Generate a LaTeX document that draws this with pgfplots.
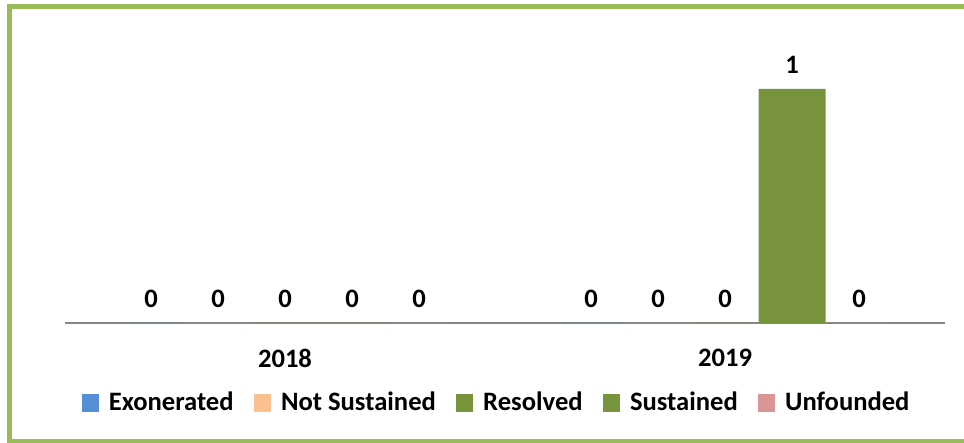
\documentclass[border=0pt]{standalone}
\usepackage{fontspec}
\setmainfont{Carlito}
\usepackage{pgfplots}
\pgfplotsset{compat=1.18}
\definecolor{cExo}{HTML}{558ED5}
\definecolor{cNot}{HTML}{FAC090}
\definecolor{cRes}{HTML}{77933C}
\definecolor{cSus}{HTML}{77933C}
\definecolor{cUnf}{HTML}{D99694}
\definecolor{frame}{HTML}{9BBB59}
\definecolor{axisc}{HTML}{868686}

\begin{document}
\begin{tikzpicture}[font=\fontsize{13.3}{15}\selectfont\bfseries]
% 1 px of the reference = 0.5pt, origin bottom left
\useasboundingbox (0,0) rectangle (482pt,221.5pt);
\draw[frame, line width=2.5pt] (482pt,218pt) -- (4.5pt,218pt) -- (4.5pt,0.75pt) -- (482pt,0.75pt);
\begin{axis}[
  at={(32.5pt,60pt)}, anchor=south west,
  scale only axis, width=440pt, height=140.5pt,
  ybar=0pt, bar width=33.5pt,
  ymin=0, ymax=1.2, xmin=-0.5, xmax=1.5,
  axis y line=none,
  axis x line*=bottom,
  x axis line style={axisc, line width=0.7pt, -},
  xtick={0,1}, xticklabels={2018,2019},
  major tick length=0pt,
  xticklabel style={yshift=-9.5pt},
  /pgf/number format/assume math mode=true,
  nodes near coords,
  nodes near coords style={yshift=4pt},
  every axis plot/.append style={draw=none},
  legend style={at={(0.4915,-0.2847)}, anchor=center, draw=none, fill=none,
    legend columns=5, /tikz/every even column/.append style={column sep=8.1pt},
    /tikz/every odd column/.append style={column sep=3pt}},
  legend image code/.code={\fill[#1] (0pt,-4.3pt) rectangle (8.6pt,4.3pt);},
]
\addplot[fill=cExo] coordinates {(0,0) (1,0)};
\addplot[fill=cNot] coordinates {(0,0) (1,0)};
\addplot[fill=cRes] coordinates {(0,0) (1,0)};
\addplot[fill=cSus] coordinates {(0,0) (1,1)};
\addplot[fill=cUnf] coordinates {(0,0) (1,0)};
\legend{Exonerated, Not Sustained, Resolved, Sustained, Unfounded}
\end{axis}
\end{tikzpicture}
\end{document}
